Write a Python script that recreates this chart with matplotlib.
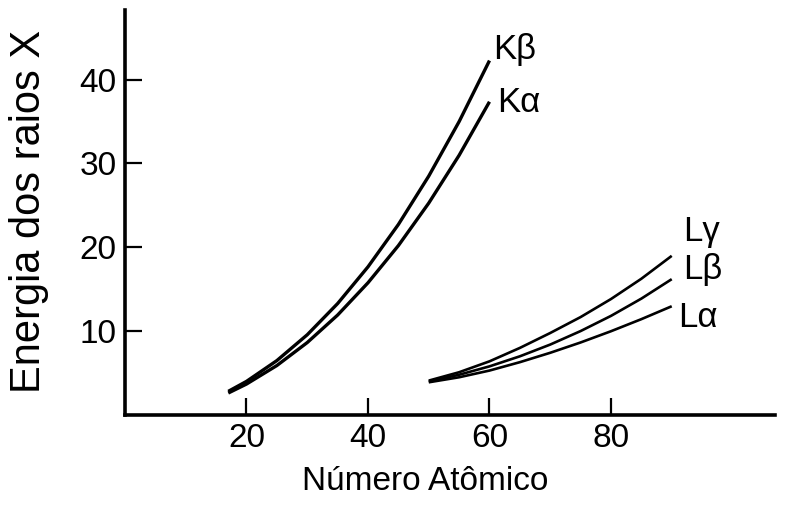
import matplotlib
matplotlib.use("Agg")
import matplotlib.pyplot as plt

# K series (keV) vs atomic number
z_k = [17, 20, 25, 30, 35, 40, 45, 50, 55, 60]
k_alpha = [2.62, 3.69, 5.90, 8.64, 11.92, 15.77, 20.2, 25.27, 30.97, 37.36]
k_beta = [2.82, 4.01, 6.49, 9.57, 13.29, 17.67, 22.72, 28.49, 34.99, 42.27]

# L series (keV)
z_l = [50, 55, 60, 65, 70, 75, 80, 85, 90]
l_alpha = [3.9, 4.5, 5.3, 6.3, 7.42, 8.65, 9.99, 11.43, 12.97]
l_beta = [4.0, 4.8, 5.8, 7.0, 8.40, 10.01, 11.82, 13.88, 16.20]
l_gamma = [4.1, 5.1, 6.4, 8.0, 9.78, 11.68, 13.83, 16.25, 18.98]

x_ticks = [20, 40, 60, 80]
y_ticks = [10, 20, 30, 40]

plt.rcParams.update({"font.family": ["Liberation Sans", "DejaVu Sans"]})

fig = plt.figure(figsize=(7.86, 5.18), dpi=100)
ax = fig.add_axes([125 / 786, 1 - 415 / 518, 650 / 786, 405 / 518])

for yy in (k_beta, k_alpha):
    ax.plot(z_k, yy, color="black", linewidth=2.4, solid_capstyle="butt")
for yy in (l_gamma, l_beta, l_alpha):
    ax.plot(z_l, yy, color="black", linewidth=1.9, solid_capstyle="butt")

labels = [
    (60.6, 43.6, "Kβ"),
    (61.3, 37.3, "Kα"),
    (91.9, 21.9, "Lγ"),
    (91.8, 17.3, "Lβ"),
    (91.1, 11.6, "Lα"),
]
for x, y, s in labels:
    ax.text(x, y, s, fontsize=25, ha="left", va="center")

ax.set_xlim(0, 107)
ax.set_ylim(0, 48.3)
ax.set_xticks(x_ticks)
ax.set_yticks(y_ticks)
ax.tick_params(direction="in", length=12, width=1.6, labelsize=24, pad=6)

for side in ("top", "right"):
    ax.spines[side].set_visible(False)
for side in ("left", "bottom"):
    ax.spines[side].set_linewidth(2.6)

ax.set_xlabel("Número Atômico", fontsize=24)
ax.xaxis.set_label_coords((425 - 125) / 650, (415 - 482) / 405)
ax.xaxis.label.set_va("center")
ax.set_ylabel("Energia dos raios X", fontsize=30)
ax.yaxis.set_label_coords((29 - 125) / 650, (415 - 211) / 405)
ax.yaxis.label.set_va("center")

fig.savefig("out.png", dpi=100)
